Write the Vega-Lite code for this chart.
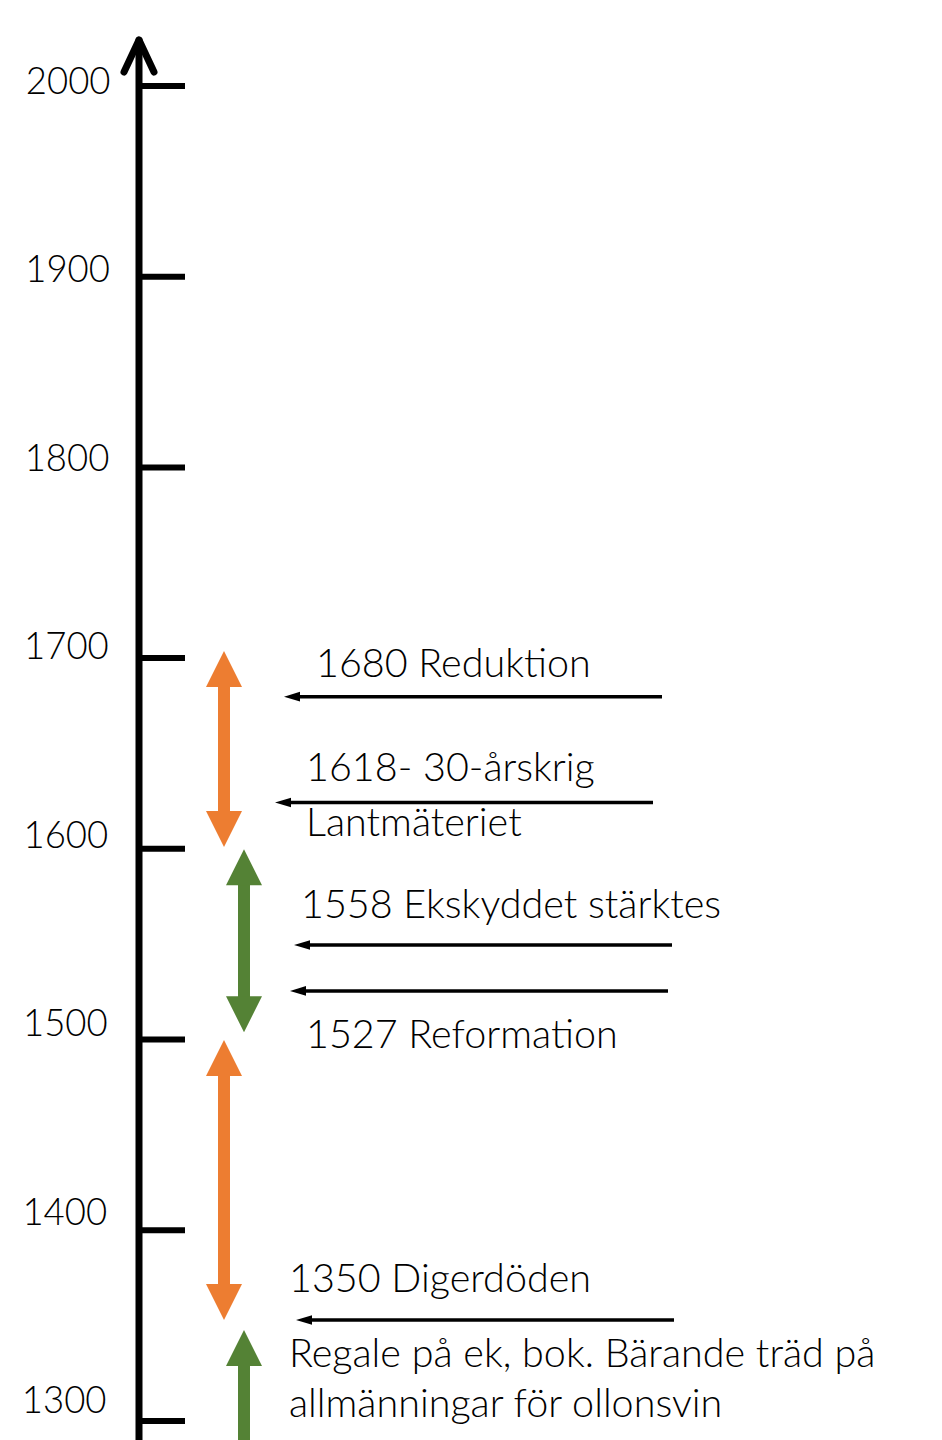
{
  "$schema": "https://vega.github.io/schema/vega-lite/v6.json",
  "width": 942,
  "height": 1440,
  "autosize": {"type": "none"},
  "padding": 0,
  "background": "white",
  "config": {"view": {"stroke": null}},
  "datasets": {
    "ticks": [
      {"year": 1300}, {"year": 1400}, {"year": 1500}, {"year": 1600},
      {"year": 1700}, {"year": 1800}, {"year": 1900}, {"year": 2000}
    ],
    "chevron": [
      {"x": 124, "year": 2007.3},
      {"x": 139, "year": 2024.1},
      {"x": 154, "year": 2007.3}
    ],
    "spans": [
      {"group": "orange", "lane": 224, "top": 1703.7, "bottom": 1601},
      {"group": "green", "lane": 244, "top": 1599.8, "bottom": 1503.8},
      {"group": "orange", "lane": 224, "top": 1499.8, "bottom": 1352.9},
      {"group": "green", "lane": 244, "top": 1347.7, "bottom": 1255}
    ],
    "events": [
      {"year": 1679.8, "tip": 284, "tail": 662},
      {"year": 1624.3, "tip": 275, "tail": 653},
      {"year": 1549.6, "tip": 294, "tail": 672},
      {"year": 1525.5, "tip": 290, "tail": 668},
      {"year": 1352.9, "tip": 296, "tail": 674}
    ],
    "labels": [
      {"text": "1680 Reduktion", "x": 316, "year": 1690.1},
      {"text": "1618- 30-årskrig", "x": 306, "year": 1635.6},
      {"text": "Lantmäteriet", "x": 306, "year": 1606.8},
      {"text": "1558 Ekskyddet stärktes", "x": 301, "year": 1563.5},
      {"text": "1527 Reformation", "x": 306, "year": 1495.8},
      {"text": "1350 Digerdöden", "x": 289, "year": 1367.6},
      {"text": "Regale på ek, bok. Bärande träd på", "x": 289, "year": 1328.5},
      {"text": "allmänningar för ollonsvin", "x": 289, "year": 1302.3}
    ]
  },
  "layer": [
    {
      "data": {"name": "ticks"},
      "mark": {"type": "rule", "color": "black", "strokeWidth": 6},
      "encoding": {
        "x": {"datum": 139, "type": "quantitative", "scale": {"domain": [0, 942], "nice": false, "zero": false}, "axis": null},
        "x2": {"datum": 185},
        "y": {
          "field": "year", "type": "quantitative",
          "scale": {"domain": [1290, 2045.1], "nice": false, "zero": false},
          "axis": {
            "orient": "left",
            "offset": -139,
            "values": [1300, 1400, 1500, 1600, 1700, 1800, 1900, 2000],
            "format": "d",
            "title": null,
            "domain": false,
            "ticks": false,
            "tickSize": 0,
            "grid": false,
            "labelFont": "Lato",
            "labelFontSize": 36.5,
            "labelFontWeight": 300,
            "labelColor": "#000000",
            "labelOverlap": false,
            "labelFlush": false,
            "labelBound": false,
            "labelPadding": {"expr": "29 + (2000 - datum.value) * 0.0057"},
            "labelOffset": {"expr": "-4 - (2000 - datum.value) * 0.0214"}
          }
        }
      }
    },
    {
      "data": {"values": [{}]},
      "mark": {"type": "rule", "color": "black", "strokeWidth": 7, "strokeCap": "round"},
      "encoding": {
        "x": {"datum": 139, "type": "quantitative", "scale": {"domain": [0, 942], "nice": false, "zero": false}, "axis": null},
        "y": {"datum": 1270, "type": "quantitative", "scale": {"domain": [1290, 2045.1], "nice": false, "zero": false}},
        "y2": {"datum": 2024.1}
      }
    },
    {
      "data": {"name": "chevron"},
      "mark": {"type": "line", "color": "black", "strokeWidth": 7, "strokeCap": "round", "strokeJoin": "round"},
      "encoding": {
        "x": {"field": "x", "type": "quantitative", "scale": {"domain": [0, 942], "nice": false, "zero": false}, "axis": null},
        "y": {"field": "year", "type": "quantitative", "scale": {"domain": [1290, 2045.1], "nice": false, "zero": false}}
      }
    },
    {
      "data": {"name": "spans"},
      "mark": {"type": "rule", "strokeWidth": 12, "yOffset": 20, "y2Offset": -20},
      "encoding": {
        "x": {"field": "lane", "type": "quantitative", "scale": {"domain": [0, 942], "nice": false, "zero": false}, "axis": null},
        "y": {"field": "top", "type": "quantitative", "scale": {"domain": [1290, 2045.1], "nice": false, "zero": false}},
        "y2": {"field": "bottom"},
        "color": {"field": "group", "type": "nominal", "scale": {"domain": ["orange", "green"], "range": ["#ED7D31", "#548235"]}, "legend": null}
      }
    },
    {
      "data": {"name": "spans"},
      "transform": [{"fold": ["top", "bottom"], "as": ["end", "year"]}],
      "mark": {"type": "point", "filled": true, "opacity": 1, "size": 1296, "strokeWidth": 0},
      "encoding": {
        "x": {"field": "lane", "type": "quantitative", "scale": {"domain": [0, 942], "nice": false, "zero": false}, "axis": null},
        "y": {"field": "year", "type": "quantitative", "scale": {"domain": [1290, 2045.1], "nice": false, "zero": false}},
        "shape": {"field": "end", "type": "nominal", "scale": {"domain": ["top", "bottom"], "range": ["M0,0L1,2L-1,2Z", "M0,0L1,-2L-1,-2Z"]}, "legend": null},
        "color": {"field": "group", "type": "nominal", "scale": {"domain": ["orange", "green"], "range": ["#ED7D31", "#548235"]}, "legend": null}
      }
    },
    {
      "data": {"name": "events"},
      "mark": {"type": "rule", "color": "black", "strokeWidth": 3.5, "xOffset": 8},
      "encoding": {
        "x": {"field": "tip", "type": "quantitative", "scale": {"domain": [0, 942], "nice": false, "zero": false}, "axis": null},
        "x2": {"field": "tail"},
        "y": {"field": "year", "type": "quantitative", "scale": {"domain": [1290, 2045.1], "nice": false, "zero": false}}
      }
    },
    {
      "data": {"name": "events"},
      "mark": {"type": "point", "shape": "M0,0L2,-0.6L2,0.6Z", "filled": true, "opacity": 1, "size": 256, "color": "black", "strokeWidth": 0},
      "encoding": {
        "x": {"field": "tip", "type": "quantitative", "scale": {"domain": [0, 942], "nice": false, "zero": false}, "axis": null},
        "y": {"field": "year", "type": "quantitative", "scale": {"domain": [1290, 2045.1], "nice": false, "zero": false}}
      }
    },
    {
      "data": {"name": "labels"},
      "mark": {"type": "text", "align": "left", "baseline": "alphabetic", "font": "Lato", "fontSize": 39.5, "fontWeight": 300, "color": "#000000"},
      "encoding": {
        "x": {"field": "x", "type": "quantitative", "scale": {"domain": [0, 942], "nice": false, "zero": false}, "axis": null},
        "y": {"field": "year", "type": "quantitative", "scale": {"domain": [1290, 2045.1], "nice": false, "zero": false}},
        "text": {"field": "text", "type": "nominal"}
      }
    }
  ]
}
